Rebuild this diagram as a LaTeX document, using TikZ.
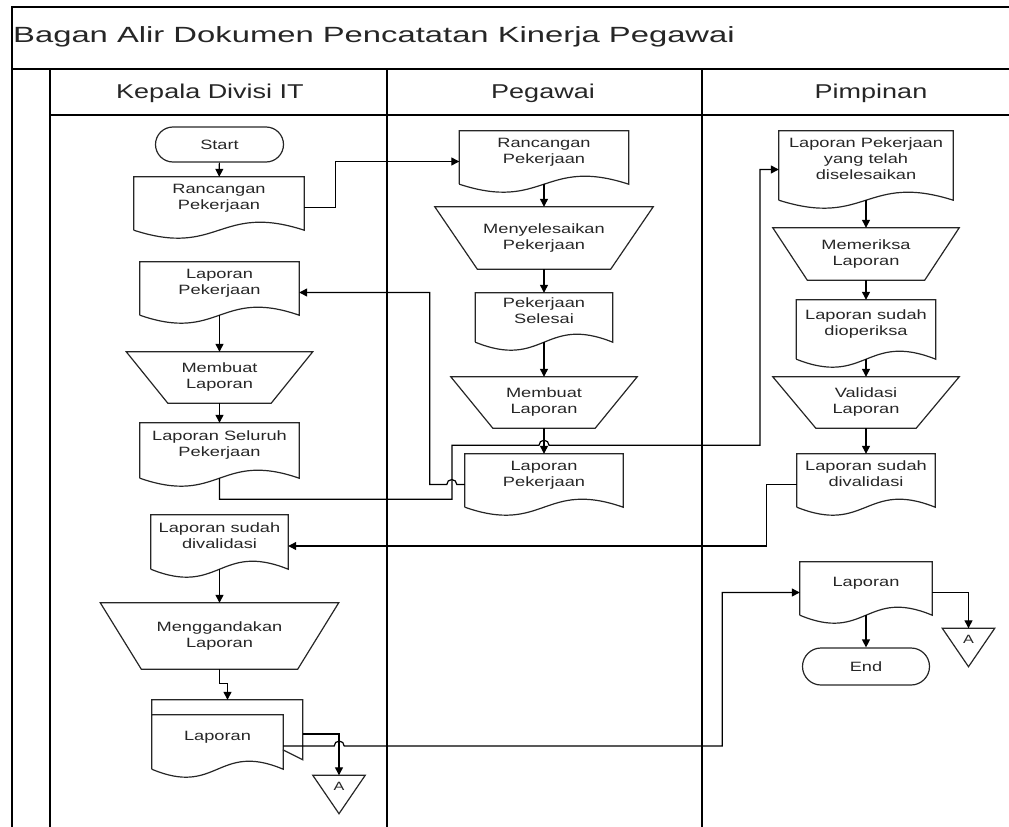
\documentclass[tikz,border=0pt]{standalone}
\usepackage{fontspec}
\setmainfont{Liberation Sans}[FakeStretch=1.35]
\newfontfamily\titlefont{Liberation Sans}[FakeStretch=1.49]
\usetikzlibrary{arrows.meta,shapes.misc,calc}

% outline of a document symbol (wavy bottom) around a plain node
\newcommand{\docshape}[1]{%
  \draw[shapeline] ([yshift=8pt]#1.south west) -- (#1.north west) -- (#1.north east)
    -- ([yshift=8pt]#1.south east)
    .. controls ([yshift=35.7pt]#1.south) and ([yshift=-19.7pt]#1.south) .. ([yshift=8pt]#1.south west);
  \coordinate (#1-w) at ([yshift=8pt]#1.south);}
% manual operation (trapezoid, wide side on top)
\newcommand{\manop}[2]{%
  \draw[shapeline] (#1.north west) -- (#1.north east) -- ([xshift=-#2pt]#1.south east)
    -- ([xshift=#2pt]#1.south west) -- cycle;}
% off-page connector
\newcommand{\offpg}[1]{%
  \draw[shapeline] (#1.north west) -- (#1.north east) -- (#1.south) -- cycle;}

\tikzset{
  shapeline/.style={draw=black!85, line width=1.2pt},
  flow/.style={draw=black, line width=1.2pt, -{Triangle[length=8pt,width=8pt]}},
  lane/.style={draw=black, line width=1.6pt},
  docbox/.style 2 args={minimum width=#1pt, minimum height=#2pt, text depth=21pt, inner sep=0pt},
  opbox/.style 2 args={minimum width=#1pt, minimum height=#2pt, inner sep=0pt},
  termbox/.style 2 args={shapeline, rounded rectangle, minimum width=#1pt, minimum height=#2pt, inner sep=0pt},
  offbox/.style={minimum width=52pt, minimum height=38pt, text height=9pt, text depth=18pt,
    inner sep=0pt, font=\fontsize{12}{14}\selectfont}
}

\begin{document}
\begin{tikzpicture}[x=1pt, y=-1pt,
  every node/.style={font=\fontsize{13.5}{16}\selectfont, text=black!85, align=center}
  ]
  \useasboundingbox (0,0) rectangle (1009,827);

  % swimlane frame
  \draw[lane] (12,827) -- (12,7) -- (1009,7);
  \draw[lane] (12,69) -- (1009,69);
  \draw[lane] (50,115) -- (1009,115);
  \draw[lane] (50,69) -- (50,827);
  \draw[lane] (387,69) -- (387,827);
  \draw[lane] (702,69) -- (702,827);

  \node[anchor=base west, inner sep=0pt, font=\titlefont\fontsize{22}{26}\selectfont] (judul) at (13,42)
    {Bagan Alir Dokumen Pencatatan Kinerja Pegawai};
  \node[anchor=base, font=\fontsize{20}{24}\selectfont] (kadiv) at (210,98) {Kepala Divisi IT};
  \node[anchor=base, font=\fontsize{20}{24}\selectfont] (pegawai) at (543,98) {Pegawai};
  \node[anchor=base, font=\fontsize{20}{24}\selectfont] (pimpinan) at (871,98) {Pimpinan};

  % Kepala Divisi IT
  \node[termbox={128}{35}] (start) at (219.5,144.5) {Start};
  \node[docbox={170}{61}] (rk) at (219,207.5) {Rancangan\\Pekerjaan};
  \node[docbox={159}{61}] (lpk) at (219.5,292.5) {Laporan\\Pekerjaan};
  \node[opbox={186}{51}] (mlk) at (219.5,377.5) {Membuat\\Laporan};
  \node[docbox={159}{63}] (lsp) at (219.5,454.5) {Laporan Seluruh\\Pekerjaan};
  \node[docbox={137}{62}] (lvk) at (219.5,546) {Laporan sudah\\divalidasi};
  \node[opbox={238}{66}] (mg) at (219.5,636) {Menggandakan\\Laporan};
  \node[docbox={131}{62}] (lapk) at (217.5,746) {Laporan};
  \node[offbox] (ak) at (339,794.5) {A};
  \docshape{rk} \docshape{lpk} \docshape{lsp} \docshape{lvk} \docshape{lapk}
  \manop{mlk}{41.5} \manop{mg}{41}
  \offpg{ak}
  \draw[shapeline] (lapk.north west) -- ++(0,-15) -- ++(151,0) -- ++(0,60) -- ++(-20,-10);
  \coordinate (lapk-top) at ([shift={(10,-15)}]lapk.north);
  \coordinate (lapk-r) at ([shift={(20,-12)}]lapk.east);

  % Pegawai
  \node[docbox={169}{61}] (rp) at (544,161.5) {Rancangan\\Pekerjaan};
  \node[opbox={218}{62}] (ms) at (544,238) {Menyelesaikan\\Pekerjaan};
  \node[docbox={137}{57}] (ps) at (544,321.5) {Pekerjaan\\Selesai};
  \node[opbox={186}{51}] (mlp) at (544,402.5) {Membuat\\Laporan};
  \node[docbox={158}{61}] (lpp) at (544,484.5) {Laporan\\Pekerjaan};
  \docshape{rp} \docshape{ps} \docshape{lpp}
  \manop{ms}{42.5} \manop{mlp}{42}

  % Pimpinan
  \node[docbox={174}{77}] (lps) at (866,169.5) {Laporan Pekerjaan\\yang telah\\diselesaikan};
  \node[opbox={186}{52}] (mem) at (866,254) {Memeriksa\\Laporan};
  \node[docbox={139}{67}] (ldo) at (866,333.5) {Laporan sudah\\dioperiksa};
  \node[opbox={186}{51}] (val) at (866,402.5) {Validasi\\Laporan};
  \node[docbox={138}{61}] (lvp) at (866,484.5) {Laporan sudah\\divalidasi};
  \node[docbox={132}{61}] (lpim) at (866,592.5) {Laporan};
  \node[termbox={127}{37}] (endn) at (866,666.5) {End};
  \node[offbox] (ap) at (968.5,647.5) {A};
  \docshape{lps} \docshape{ldo} \docshape{lvp} \docshape{lpim}
  \manop{mem}{34.5} \manop{val}{43}
  \offpg{ap}

  % alur
  \draw[flow] (start) -- (rk);
  \draw[flow] (lpk-w) -- (mlk.north);
  \draw[flow] (mlk.south) -- (lsp.north);
  \draw[flow] (lvk-w) -- (mg.north);
  \draw[flow] (mg.south) -- ++(0,14) -| (lapk-top);
  \draw[flow] (lapk-r) -| (ak.north);
  \draw[flow] (rk.east) -- ++(31,0) |- (rp.west);
  \draw[flow] (rp-w) -- (ms.north);
  \draw[flow] (ms.south) -- (ps.north);
  \draw[flow] (ps-w) -- (mlp.north);
  \draw[flow] (mlp.south) -- (lpp.north);
  \draw[flow] (lpp.west) -- ++(-8,0) arc[start angle=0, end angle=-180, radius=5]
    -- ++(-17,0) |- (lpk.east);
  \draw[flow] (lsp-w) -- ++(0,21) -- ++(232.5,0) -- ++(0,-54) -- ++(87,0)
    arc[start angle=180, end angle=360, radius=5] -- ++(211,0) |- (lps.west);
  \draw[flow] (lps-w) -- (mem.north);
  \draw[flow] (mem.south) -- (ldo.north);
  \draw[flow] (ldo-w) -- (val.north);
  \draw[flow] (val.south) -- (lvp.north);
  \draw[flow] (lvp.west) -- ++(-30,0) |- (lvk.east);
  \draw[flow] (lapk.east) -- ++(51,0) arc[start angle=180, end angle=360, radius=5]
    -- ++(378,0) |- (lpim.west);
  \draw[flow] (lpim-w) -- (endn.north);
  \draw[flow] (lpim.east) -| (ap.north);
\end{tikzpicture}
\end{document}
